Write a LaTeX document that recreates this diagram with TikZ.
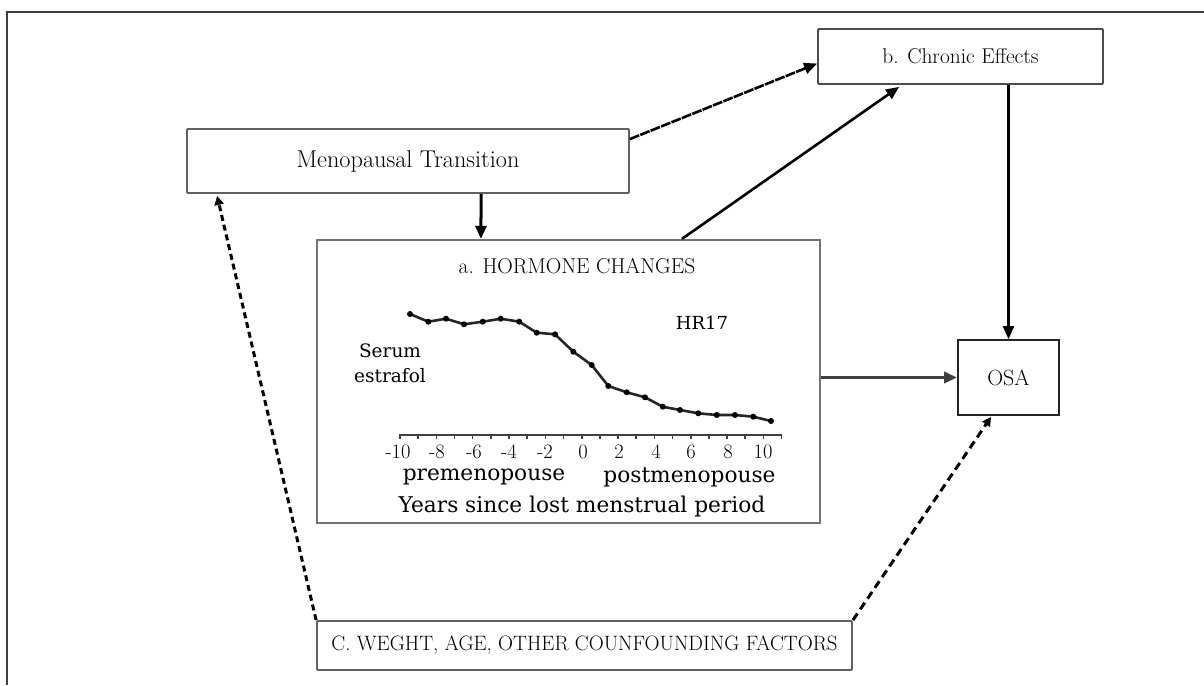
\documentclass[tikz,border=0pt]{standalone}
\usepackage{fontspec}
\newfontfamily\chartfont{DejaVu Serif}
\usetikzlibrary{arrows.meta,calc}
\begin{document}
\begin{tikzpicture}[x=1pt,y=-1pt,
  box/.style={draw=black!62, line width=1.8pt, rounded corners=1pt, inner sep=0pt, fill=white},
  arr/.style={line width=2.6pt, -{Triangle[length=13pt,width=11pt]}},
  dsh/.style={line width=3pt, dash pattern=on 6pt off 4pt, -{Triangle[length=9pt,width=9pt]}},
  chartline/.style={line width=2.6pt, black!85, line join=round},
  axisline/.style={line width=1.8pt, black!75},
  numlbl/.style={inner sep=0pt, font=\fontsize{20.5}{22}\selectfont},
  chartlbl/.style={inner sep=0pt, font=\chartfont\fontsize{21.7}{25}\selectfont}
]
\useasboundingbox (0,0) rectangle (1204,685);
\fill[white] (0,0) rectangle (1204,685);
% outer frame (top and left only)
\draw[line width=2pt, black!75] (7,685) -- (7,12) -- (1204,12);

% boxes
\node[box, minimum width=442pt, minimum height=64pt] (mt) at (408,161)
  {\fontsize{24.3}{28}\selectfont Menopausal Transition};
\node[box, draw=black!70, minimum width=285pt, minimum height=55pt] (ce) at (960.5,56.5)
  {\fontsize{21.4}{24}\selectfont b. Chronic Effects};
\node[box, draw=black!55, line width=2.2pt, rounded corners=0pt, minimum width=503pt, minimum height=283pt] (hc) at (568.5,381.5) {};
\node[box, draw=black!85, rounded corners=0pt, minimum width=101pt, minimum height=75pt] (osa) at (1008.5,377.5)
  {\fontsize{22}{25}\selectfont OSA};
\node[box, minimum width=535pt, minimum height=49pt] (cf) at (584.5,645.5)
  {\fontsize{20.8}{24}\selectfont C. WEGHT, AGE, OTHER COUNFOUNDING FACTORS};

% hormone box contents
\node[inner sep=0pt] (ttl) at (577,266) {\fontsize{21.5}{25}\selectfont a. HORMONE CHANGES};
\node[inner sep=0pt, font=\chartfont\fontsize{18}{20}\selectfont] (hr) at (702,323) {HR17};
\node[inner sep=0pt, align=center, font=\chartfont\fontsize{18.5}{25}\selectfont] (ser) at (390,363) {Serum\\estrafol};

\draw[chartline] plot coordinates {(410,314) (428.3,321.7) (446,318.7) (464,324.3) (482.7,321.7) (500.7,318.7) (519.3,321.7) (536.7,332.7) (555,334.3) (573.3,351.7) (591.7,365) (608.3,386) (626.7,392.3) (645,397.3) (662.7,406.7) (680,410) (698.3,413.3) (716.7,415) (735,415) (753.3,416.7) (771,421)};
\foreach \p in {(410,314),(428.3,321.7),(446,318.7),(464,324.3),(482.7,321.7),(500.7,318.7),(519.3,321.7),(536.7,332.7),(555,334.3),(573.3,351.7),(591.7,365),(608.3,386),(626.7,392.3),(645,397.3),(662.7,406.7),(680,410),(698.3,413.3),(716.7,415),(735,415),(753.3,416.7),(771,421)}
  \fill[black] \p circle (3pt);

\draw[axisline] (400,435) -- (782,435);
\foreach \k in {0,...,21}
  \draw[line width=1.6pt, black!75] ({400+\k*18.17},434) -- ++(0,5);

\foreach \v/\x in {-10/398,-8/437,-6/474,-4/509,-2/545,0/583,2/619,4/656,6/691,8/728,10/763}
  \node[numlbl] (num\x) at (\x,452) {\v};

\node[chartlbl] (pre) at (484,477) {premenopouse};
\node[chartlbl] (post) at (689.5,477) {postmenopouse};
\node[chartlbl] (yrs) at (582,507) {Years since lost menstrual period};

% connectors
\draw[arr, dash pattern=on 10pt off 1.2pt] ([yshift=-11pt]mt.north east) -- ([yshift=-7pt]ce.west);
\draw[arr] ($(hc.north west)+(366,0)$) -- ($(ce.south west)+(82,2)$);
\draw[arr, line width=3pt] ($(mt.south west)+(295,0)$) -- ($(hc.north west)+(165,0)$);
\draw[arr, line width=2.2pt] (ce.south -| osa.north) -- (osa.north);
\draw[arr, line width=3.2pt, black!75] (hc.east |- osa.west) -- (osa.west);
\draw[dsh] (cf.north west) -- ($(mt.south west)+(31,2)$);
\draw[dsh, dash pattern=on 8pt off 5pt] (cf.north east) -- ($(osa.south west)+(34,1)$);
\end{tikzpicture}
\end{document}
